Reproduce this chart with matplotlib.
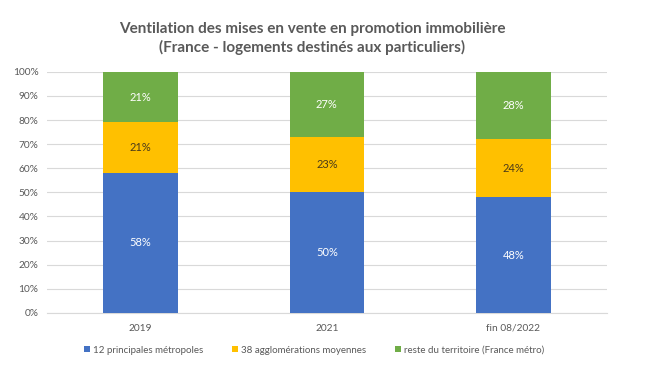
import matplotlib.pyplot as plt
import numpy as np

plt.rcParams['font.family'] = ['Lato', 'DejaVu Sans']

categories = ["2019", "2021", "fin 08/2022"]
metropoles = [58, 50, 48]
agglos = [21, 23, 24]
reste = [21, 27, 28]
series_names = ["12 principales métropoles", "38 agglomérations moyennes",
                "reste du territoire (France métro)"]
colors = ["#4472C4", "#FFC000", "#70AD47"]
label_colors = ["white", "#4a3a1a", "white"]

fig = plt.figure(figsize=(6.61, 3.82), dpi=100)
ax = fig.add_axes([0.071, 0.181, 0.847, 0.631])

x = np.arange(len(categories))
bottom = np.zeros(len(categories))
handles = []
for vals, name, c, lc in zip([metropoles, agglos, reste], series_names, colors, label_colors):
    vals = np.array(vals)
    b = ax.bar(x, vals, 0.4, bottom=bottom, color=c, label=name, zorder=3)
    handles.append(b)
    for xi, v, bo in zip(x, vals, bottom):
        ax.text(xi, bo + v / 2, f"{v}%", ha="center", va="center",
                color=lc, fontsize=8, zorder=4)
    bottom += vals

ax.set_xlim(-0.5, 2.5)
ax.set_ylim(0, 100)
ax.set_yticks(np.arange(0, 101, 10))
ax.set_yticklabels([f"{t}%" for t in range(0, 101, 10)])
ax.set_xticks(x)
ax.set_xticklabels(categories)
ax.yaxis.grid(True, color="#d9d9d9", linewidth=0.8, zorder=0)
for s in ["top", "right", "left"]:
    ax.spines[s].set_visible(False)
ax.spines["bottom"].set_color("#d9d9d9")
ax.tick_params(axis="both", length=0, labelsize=7.3, colors="#595959")
ax.tick_params(axis="x", pad=8)
ax.tick_params(axis="y", pad=6)

fig.text(0.472, 0.925, "Ventilation des mises en vente en promotion immobilière",
         ha="center", va="center", fontsize=11, fontweight="bold", color="#595959")
fig.text(0.472, 0.875, "(France - logements destinés aux particuliers)",
         ha="center", va="center", fontsize=11, fontweight="bold", color="#595959")

fig.legend(handles=handles, loc="center", bbox_to_anchor=(0.475, 0.083), ncol=3,
           frameon=False, fontsize=7, handlelength=0.6, handleheight=0.6,
           handletextpad=0.3, columnspacing=3.0, labelcolor="#595959")

fig.savefig("out.png", dpi=100, facecolor="white")
